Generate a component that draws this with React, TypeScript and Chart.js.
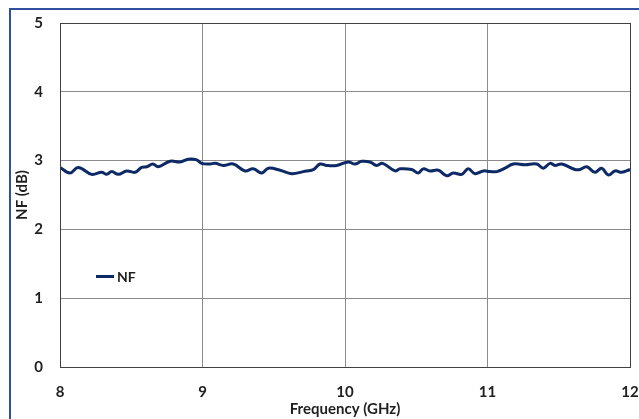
import React, { useEffect, useRef } from "react";
import { Chart, registerables } from "chart.js";

Chart.register(...registerables);

const freqGHz = [
  8.0, 8.07, 8.128, 8.222, 8.293, 8.328, 8.363, 8.409, 8.468, 8.526, 8.573, 8.608, 8.651, 8.69,
  8.772, 8.842, 8.9, 8.959, 8.994, 9.053, 9.088, 9.146, 9.216, 9.298, 9.356, 9.415, 9.462,
  9.544, 9.626, 9.707, 9.778, 9.825, 9.872, 9.942, 10.023, 10.07, 10.117, 10.175, 10.222,
  10.264, 10.351, 10.386, 10.468, 10.514, 10.549, 10.596, 10.655, 10.714, 10.76, 10.819,
  10.865, 10.912, 10.971, 11.018, 11.065, 11.123, 11.181, 11.263, 11.345, 11.392, 11.439,
  11.474, 11.521, 11.614, 11.649, 11.696, 11.754, 11.801, 11.848, 11.895, 11.942, 12.0,
];
const nfDb = [
  2.9, 2.82, 2.9, 2.8, 2.83, 2.8, 2.84, 2.8, 2.85, 2.83, 2.9, 2.91, 2.95, 2.91,
  2.99, 2.98, 3.02, 3.01, 2.96, 2.95, 2.96, 2.93, 2.95, 2.85, 2.88, 2.82, 2.89,
  2.86, 2.81, 2.84, 2.87, 2.95, 2.93, 2.93, 2.98, 2.95, 2.99, 2.98, 2.93,
  2.96, 2.85, 2.88, 2.87, 2.82, 2.88, 2.85, 2.86, 2.78, 2.82, 2.8,
  2.88, 2.81, 2.85, 2.84, 2.84, 2.89, 2.95, 2.94, 2.95, 2.89, 2.96,
  2.93, 2.95, 2.87, 2.87, 2.91, 2.83, 2.89, 2.79, 2.85, 2.83, 2.87,
];
const seriesName = "NF";
const xTitle = "Frequency (GHz)";
const yTitle = "NF (dB)";
const xMin = 8, xMax = 12, yMin = 0, yMax = 5;

const FONT = "Lato, 'Open Sans', sans-serif";
const LINE_COLOR = "#0d2a66";
const TEXT_COLOR = "#1f1f1f";

const overlay = {
  id: "overlay",
  afterDraw(chart: any) {
    const { ctx, chartArea } = chart;
    const { left, right, top, bottom } = chartArea;
    ctx.save();
    ctx.strokeStyle = "#404040";
    ctx.lineWidth = 1;
    ctx.strokeRect(Math.round(left) + 0.5, Math.round(top) + 0.5, Math.round(right - left), Math.round(bottom - top));
    ctx.fillStyle = TEXT_COLOR;
    ctx.font = `bold 15px ${FONT}`;
    ctx.textAlign = "center";
    ctx.textBaseline = "middle";
    ctx.fillText(xTitle, (left + right) / 2, 409);
    ctx.save();
    ctx.translate(22, (top + bottom) / 2);
    ctx.rotate(-Math.PI / 2);
    ctx.fillText(yTitle, 0, 0);
    ctx.restore();
    ctx.strokeStyle = LINE_COLOR;
    ctx.lineWidth = 3;
    ctx.beginPath();
    ctx.moveTo(96, 276.5);
    ctx.lineTo(114, 276.5);
    ctx.stroke();
    ctx.font = `bold 14px ${FONT}`;
    ctx.textAlign = "left";
    ctx.fillText(seriesName, 117, 277);
    ctx.restore();
  },
};

export default function App() {
  const ref = useRef<HTMLCanvasElement>(null);
  useEffect(() => {
    const prevOverflow = document.body.style.overflow;
    document.body.style.overflow = "hidden";
    const chart = new Chart(ref.current!, {
      type: "line",
      data: {
        datasets: [
          {
            label: seriesName,
            data: freqGHz.map((f, i) => ({ x: f, y: nfDb[i] })),
            borderColor: LINE_COLOR,
            borderWidth: 3,
            pointRadius: 0,
            tension: 0.4,
            fill: false,
          },
        ],
      },
      options: {
        animation: false,
        responsive: false,
        maintainAspectRatio: false,
        layout: { padding: { left: 0, top: 23, right: 9, bottom: 0 } },
        plugins: { legend: { display: false }, tooltip: { enabled: false } },
        scales: {
          x: {
            type: "linear",
            min: xMin,
            max: xMax,
            ticks: {
              stepSize: 1,
              padding: 16,
              color: TEXT_COLOR,
              font: { family: FONT, size: 15, weight: "bold" },
              maxRotation: 0,
            },
            grid: { color: "#8c8c8c", lineWidth: 1, drawTicks: false },
            border: { display: false },
            afterFit: (s: any) => {
              s.height = 52;
              s.paddingLeft = 0;
              s.paddingRight = 0;
            },
          },
          y: {
            min: yMin,
            max: yMax,
            ticks: {
              stepSize: 1,
              padding: 17,
              color: TEXT_COLOR,
              font: { family: FONT, size: 15, weight: "bold" },
            },
            grid: { color: "#8c8c8c", lineWidth: 1, drawTicks: false },
            border: { display: false },
            afterFit: (s: any) => {
              s.width = 60;
              s.paddingTop = 0;
              s.paddingBottom = 0;
            },
          },
        },
      },
      plugins: [overlay],
    });
    return () => {
      chart.destroy();
      document.body.style.overflow = prevOverflow;
    };
  }, []);
  return (
    <div style={{ position: "fixed", left: 0, top: 0, width: 639, height: 419, background: "#fff", overflow: "hidden" }}>
      <div
        style={{
          position: "absolute",
          left: 9,
          top: 8,
          width: 700,
          height: 500,
          borderLeft: "2px solid #2f509c",
          borderTop: "2px solid #2f509c",
          boxSizing: "border-box",
        }}
      />
      <canvas ref={ref} width={639} height={419} style={{ position: "absolute", left: 0, top: 0, width: 639, height: 419 }} />
    </div>
  );
}
